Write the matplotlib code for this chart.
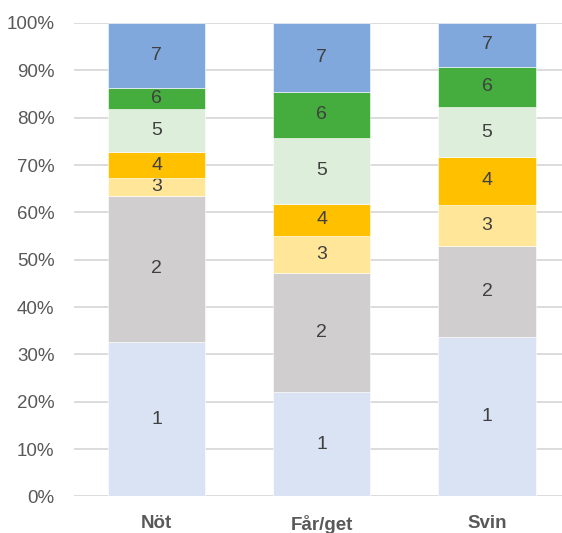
import matplotlib
matplotlib.use("Agg")
import matplotlib.pyplot as plt
import numpy as np

# ---------------------------------------------------------------------------
# Data (share per category, %)
# ---------------------------------------------------------------------------
categories = ["Nöt", "Får/get", "Svin"]
segment_labels = ["1", "2", "3", "4", "5", "6", "7"]
seg1 = [32.7, 22.1, 33.7]
seg2 = [30.8, 25.2, 19.3]
seg3 = [3.8, 7.8, 8.6]
seg4 = [5.4, 6.7, 10.1]
seg5 = [9.2, 13.9, 10.5]
seg6 = [4.3, 9.8, 8.6]
seg7 = [13.8, 14.5, 9.2]
y_ticks = [0, 10, 20, 30, 40, 50, 60, 70, 80, 90, 100]

colors = ["#DAE3F3", "#D0CECE", "#FFE699", "#FFC000", "#DDEEDA", "#44AD3D", "#80A8DC"]

plt.rcParams["font.family"] = ["Liberation Sans Narrow", "Liberation Sans", "DejaVu Sans"]

fig = plt.figure(figsize=(5.62, 5.33), dpi=100)
ax = fig.add_axes([0.1315, 0.0685, 0.882, 0.8884])

x = np.arange(len(categories))
series = [seg1, seg2, seg3, seg4, seg5, seg6, seg7]
bottom = np.zeros(len(categories))
for lab, vals, col in zip(segment_labels, series, colors):
    vals = np.array(vals)
    bars = ax.bar(x, vals, width=0.59, bottom=bottom, color=col,
                  edgecolor="white", linewidth=0.4, zorder=3)
    ax.bar_label(bars, labels=[lab] * len(vals), label_type="center",
                 color="#404040", fontsize=14)
    bottom += vals

ax.set_xlim(-0.5, 2.5)
ax.set_ylim(0, 100)
ax.set_yticks(y_ticks)
ax.set_yticklabels([f"{t}%" for t in y_ticks])
ax.set_xticks(x)
ax.set_xticklabels(categories, fontweight="bold")

ax.grid(axis="y", color="#D9D9D9", linewidth=1.3, zorder=0)
ax.set_axisbelow(True)
for s in ax.spines.values():
    s.set_visible(False)
ax.tick_params(axis="y", length=0, pad=14, labelsize=13.5, labelcolor="#595959")
ax.tick_params(axis="x", length=0, pad=13, labelsize=13.5, labelcolor="#595959")

plt.savefig("out.png", dpi=100)
plt.close()
